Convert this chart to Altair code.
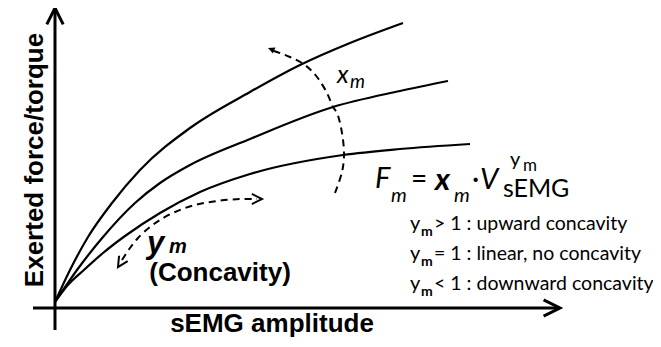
import altair as alt
import pandas as pd

# ---------------- data (schematic units: origin of the axes = 0,0) ----------------
# three force / sEMG curves (different x_m, y_m < 1)
top_x = [0, 15, 33, 57, 85, 135, 195, 245, 295, 348]
top_y = [6, 38, 71, 105, 138, 180, 216, 243, 265, 285]
mid_x = [0, 22, 48, 80, 105, 135, 195, 278, 345, 393]
mid_y = [6, 38, 71, 105, 125, 143, 169, 201, 217, 227]
bot_x = [0, 12, 30, 48, 70, 105, 145, 195, 288, 345, 415]
bot_y = [6, 22, 39, 55, 72, 95, 116, 134, 153, 159, 164]

# dashed arcs
xm_arc_x = [280, 287, 289, 287, 282, 278, 272, 262, 250, 235, 219]
xm_arc_y = [115, 136, 153, 175, 195, 201, 215, 231, 243, 251, 257]
ym_arc_x = [67, 75, 83, 95, 105, 120, 140, 162, 185, 202]
ym_arc_y = [48, 60, 70, 81, 88, 96, 103, 107, 109, 109]

# axes (start, end)
x_axis = (-22, 505)
y_axis = (-22, 300)

# texts
cond_text = ["> 1 : upward concavity", "= 1 : linear, no concavity", "< 1 : downward concavity"]
cond_base = [78, 48, 18]

X_DOMAIN = [-47, 598]
Y_DOMAIN = [-30, 300]
W, H = 645, 330

xs = alt.Scale(domain=X_DOMAIN, nice=False, zero=False)
ys = alt.Scale(domain=Y_DOMAIN, nice=False, zero=False)


def X(f="x"):
    return alt.X(f"{f}:Q", scale=xs, axis=None)


def Y(f="y"):
    return alt.Y(f"{f}:Q", scale=ys, axis=None)


rows = []
for name, xx, yy in [("top", top_x, top_y), ("mid", mid_x, mid_y), ("bot", bot_x, bot_y)]:
    for i, (a, b) in enumerate(zip(xx, yy)):
        rows.append({"series": name, "i": i, "x": a, "y": b})
curves = pd.DataFrame(rows)

arc_rows = []
for name, xx, yy in [("xm", xm_arc_x, xm_arc_y), ("ym", ym_arc_x, ym_arc_y)]:
    for i, (a, b) in enumerate(zip(xx, yy)):
        arc_rows.append({"arc": name, "i": i, "x": a, "y": b})
arcs = pd.DataFrame(arc_rows)

curve_layer = alt.Chart(curves).mark_line(
    color="black", strokeWidth=2.2, interpolate="monotone"
).encode(x=X(), y=Y(), detail="series:N", order="i:Q")

arc_layer = alt.Chart(arcs).mark_line(
    color="black", strokeWidth=2, interpolate="catmull-rom", strokeDash=[7, 5]
).encode(x=X(), y=Y(), detail="arc:N", order="i:Q")

axes = pd.DataFrame({
    "x": [x_axis[0], 0], "x2": [x_axis[1], 0],
    "y": [0, y_axis[0]], "y2": [0, y_axis[1]],
})
axis_layer = alt.Chart(axes).mark_rule(color="black", strokeWidth=3).encode(
    x=X(), y=Y(), x2="x2:Q", y2="y2:Q"
)

CHEV = "M -0.8 1.6 L 0 0 L 0.8 1.6"
TRI = "M -0.8 1.6 L 0 0 L 0.8 1.6 Z"

axis_tips = pd.DataFrame({"x": [0, x_axis[1]], "y": [y_axis[1], 0], "a": [0, 90]})
axis_tip_layer = alt.Chart(axis_tips).mark_point(
    shape=CHEV, filled=False, size=420, strokeWidth=3, opacity=1, color="black", strokeJoin="miter"
).encode(x=X(), y=Y(), angle=alt.Angle("a:Q", scale=None))

ym_tips = pd.DataFrame({"x": [63, 207], "y": [41, 109], "a": [212, 90]})
ym_tip_layer = alt.Chart(ym_tips).mark_point(
    shape=CHEV, filled=False, size=160, strokeWidth=2, opacity=1, color="black", strokeJoin="miter"
).encode(x=X(), y=Y(), angle=alt.Angle("a:Q", scale=None))

xm_tips = pd.DataFrame({"x": [213], "y": [260], "a": [292]})
xm_tip_layer = alt.Chart(xm_tips).mark_point(
    shape=TRI, filled=True, size=70, opacity=1, color="black"
).encode(x=X(), y=Y(), angle=alt.Angle("a:Q", scale=None))


def texts(t, x, y, font, size, weight="normal", style="normal", align="left", angle=0, baseline="alphabetic"):
    df = pd.DataFrame({"t": t, "x": x, "y": y})
    return alt.Chart(df).mark_text(
        font=font, fontSize=size, fontWeight=weight, fontStyle=style,
        align=align, baseline=baseline, angle=angle, color="black"
    ).encode(x=X(), y=Y(), text="t:N")


ARIAL = "Liberation Sans"
CAL = "Lato"

layers = [
    curve_layer, arc_layer, axis_layer, axis_tip_layer, ym_tip_layer, xm_tip_layer,
    # axis titles
    texts(["Exerted force/torque"], [-20], [148], ARIAL, 26, weight="bold", align="center",
          angle=270, baseline="middle"),
    texts(["sEMG amplitude"], [217], [-24], ARIAL, 26, weight="bold", align="center"),
    # y_m (Concavity)
    texts(["(Concavity)"], [165], [27], ARIAL, 26, weight="bold", align="center"),
    texts(["y"], [92], [55], ARIAL, 31, weight="bold", style="italic"),
    texts(["m"], [114], [55], ARIAL, 20, weight="bold", style="italic"),
    # x_m label
    texts(["x"], [282], [225], CAL, 25, style="italic"),
    texts(["m"], [295], [220], CAL, 19, style="italic"),
    # formula
    texts(["F", "V"], [320, 425], [120, 119], CAL, 29, style="italic"),
    texts(["m", "m"], [336, 399], [106, 106], CAL, 20, style="italic"),
    texts(["=", "·"], [356, 417], [120, 120], CAL, 28),
    texts(["x"], [380], [118], CAL, 31, weight="bold", style="italic"),
    texts(["sEMG"], [448], [111], CAL, 25),
    texts(["y"], [455], [142], CAL, 20),
    texts(["m"], [468], [137], CAL, 17),
    # conditions
    texts(["y", "y", "y"], [355, 355, 355], cond_base, CAL, 20),
    texts(["m", "m", "m"], [366, 366, 366], [b - 6 for b in cond_base], CAL, 14, weight="bold"),
    texts(cond_text, [379, 379, 379], cond_base, CAL, 19.5),
]

chart = alt.layer(*layers).properties(
    width=W, height=H, padding=0,
    autosize=alt.AutoSizeParams(type="none"),
    background="white",
).configure_view(stroke=None)

chart.save("out.html", embed_options={"renderer": "svg", "actions": False})
